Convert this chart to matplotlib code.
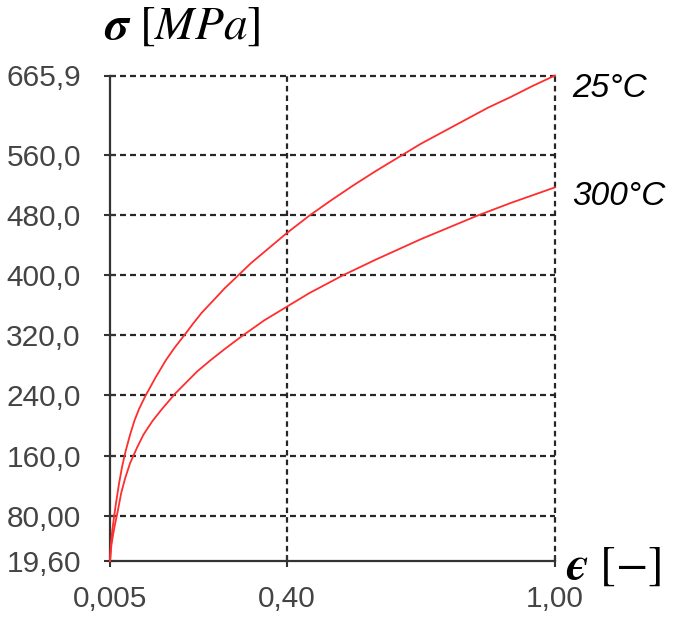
import matplotlib
matplotlib.use("Agg")
import matplotlib.pyplot as plt

plt.rcParams['lines.scale_dashes'] = False
plt.rcParams['mathtext.fontset'] = 'stix'

# ---- data ----
strain_25 = [0.005, 0.007, 0.010, 0.014, 0.018, 0.025, 0.032, 0.040, 0.050, 0.060,
             0.070, 0.083, 0.106, 0.130, 0.150, 0.171, 0.190, 0.210, 0.240, 0.262,
             0.292, 0.320, 0.350, 0.400, 0.450, 0.500, 0.550, 0.600, 0.650, 0.700,
             0.750, 0.800, 0.850, 0.900, 0.950, 1.000]
stress_25 = [19.6, 42.0, 60.0, 78.0, 95.0, 122.0, 145.0, 166.0, 188.0, 207.0,
             222.0, 238.0, 263.0, 287.0, 304.0, 320.0, 335.0, 350.0, 369.0, 383.0,
             400.0, 416.0, 431.0, 456.0, 479.0, 500.0, 520.0, 539.0, 557.0, 575.0,
             591.0, 607.0, 623.0, 637.0, 652.0, 665.9]

strain_300 = [0.005, 0.008, 0.012, 0.016, 0.022, 0.030, 0.039, 0.050, 0.065, 0.080,
              0.100, 0.120, 0.150, 0.175, 0.200, 0.230, 0.262, 0.300, 0.350, 0.400,
              0.450, 0.526, 0.600, 0.700, 0.825, 0.900, 1.000]
stress_300 = [19.6, 40.0, 55.0, 68.0, 85.0, 110.0, 130.0, 150.0, 170.0, 188.0,
              206.0, 221.0, 242.0, 257.0, 272.0, 287.0, 302.0, 319.0, 340.0, 358.0,
              376.0, 400.0, 421.0, 448.0, 479.0, 496.0, 517.0]

series_labels = ['25°C', '300°C']

y_ticks = [19.60, 80.00, 160.0, 240.0, 320.0, 400.0, 480.0, 560.0, 665.9]
y_tick_labels = ['19,60', '80,00', '160,0', '240,0', '320,0', '400,0', '480,0', '560,0', '665,9']
x_ticks = [0.005, 0.40, 1.00]
x_tick_labels = ['0,005', '0,40', '1,00']

# ---- figure ----
W, H = 685, 617
fig = plt.figure(figsize=(W / 100, H / 100), dpi=100)
ax = fig.add_axes([110 / W, 1 - 561 / H, (555 - 110) / W, (561 - 75.5) / H])

ax.set_xlim(x_ticks[0], x_ticks[-1])
ax.set_ylim(y_ticks[0], y_ticks[-1])

grid_color = '#262626'
for yv in y_ticks[1:]:
    ln = ax.axhline(yv, color=grid_color, lw=1.6, clip_on=False, zorder=1)
    ln.set_dashes((4.3, 2.9))
for xv in x_ticks[1:]:
    ln = ax.axvline(xv, color=grid_color, lw=1.6, clip_on=False, zorder=1)
    ln.set_dashes((4.0, 2.9))

red = '#ff2d2d'
ax.plot(strain_25, stress_25, color=red, lw=1.3, zorder=3, clip_on=False)
ax.plot(strain_300, stress_300, color=red, lw=1.3, zorder=3, clip_on=False)

for s in ['top', 'right']:
    ax.spines[s].set_visible(False)
for s in ['left', 'bottom']:
    ax.spines[s].set_color('#333333')
    ax.spines[s].set_linewidth(1.6)

ax.set_yticks(y_ticks)
ax.set_yticklabels(y_tick_labels)
ax.set_xticks(x_ticks)
ax.set_xticklabels(x_tick_labels)
ax.tick_params(axis='both', direction='inout', length=9, width=1.5, color='#333333',
               labelsize=21.5, labelcolor='#444444')
ax.tick_params(axis='y', pad=16.5)
ax.tick_params(axis='x', pad=13)
for t in ax.get_xticklabels() + ax.get_yticklabels():
    t.set_family('Liberation Sans')

# curve labels
ax.annotate(series_labels[0], xy=(strain_25[-1], stress_25[-1]), xytext=(17, -13),
            textcoords='offset pixels', ha='left', va='center', fontsize=24,
            style='italic', family='Liberation Sans', color='black', annotation_clip=False)
ax.annotate(series_labels[1], xy=(strain_300[-1], stress_300[-1]), xytext=(17, -9),
            textcoords='offset pixels', ha='left', va='center', fontsize=24,
            style='italic', family='Liberation Sans', color='black', annotation_clip=False)

# axis titles
fig.text(104 / W, 1 - 26 / H, r'$\mathbfit{\sigma}\ [MPa]$', fontsize=34,
         ha='left', va='center')
fig.text(566 / W, 1 - 566 / H, '$\\mathbfit{\u03f5}\\ [-]$', fontsize=34,
         ha='left', va='center')

fig.savefig('out.png', dpi=100)
